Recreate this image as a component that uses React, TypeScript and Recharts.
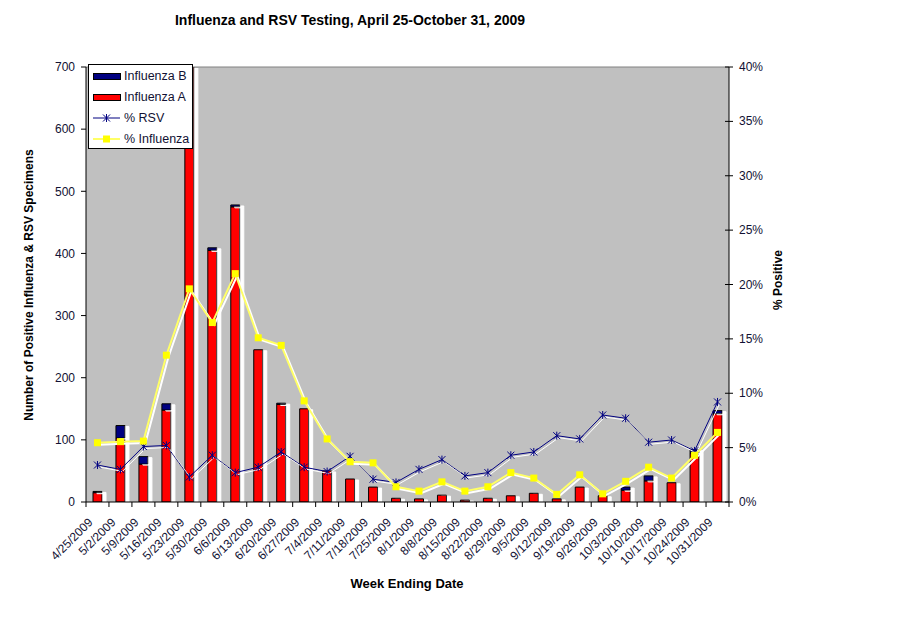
import React from 'react';
import { ComposedChart, Bar, Line, XAxis, YAxis, CartesianGrid, ReferenceLine, Legend, Label } from 'recharts';

const weeks = [
  '4/25/2009', '5/2/2009', '5/9/2009', '5/16/2009', '5/23/2009', '5/30/2009', '6/6/2009',
  '6/13/2009', '6/20/2009', '6/27/2009', '7/4/2009', '7/11/2009', '7/18/2009', '7/25/2009',
  '8/1/2009', '8/8/2009', '8/15/2009', '8/22/2009', '8/29/2009', '9/5/2009', '9/12/2009',
  '9/19/2009', '9/26/2009', '10/3/2009', '10/10/2009', '10/17/2009', '10/24/2009', '10/31/2009',
];
const influenzaA = [15, 103, 61, 148, 760, 405, 475, 245, 157, 150, 50, 37, 24, 6, 5, 11, 3, 6, 10, 14, 5, 24, 10, 19, 34, 31, 79, 142];
const influenzaB = [2, 20, 12, 10, 0, 4, 3, 0, 2, 0, 0, 0, 0, 0, 0, 0, 0, 0, 0, 0, 0, 0, 0, 5, 8, 0, 5, 5];
const pctRsv = [3.4, 3.0, 5.1, 5.2, 2.3, 4.3, 2.7, 3.2, 4.6, 3.2, 2.8, 4.2, 2.1, 1.8, 3.0, 3.9, 2.4, 2.7, 4.3, 4.6, 6.1, 5.8, 8.0, 7.7, 5.5, 5.7, 4.7, 9.2];
const pctInfluenza = [5.45, 5.55, 5.6, 13.5, 19.6, 16.5, 21.0, 15.1, 14.4, 9.3, 5.8, 3.7, 3.6, 1.4, 1.0, 1.85, 1.0, 1.4, 2.7, 2.2, 0.7, 2.5, 0.75, 1.9, 3.2, 2.2, 4.3, 6.4];
const countTicks = [0, 100, 200, 300, 400, 500, 600, 700];
const pctTicks = [0, 5, 10, 15, 20, 25, 30, 35, 40];

const data = weeks.map((week, i) => ({
  week,
  fluA: influenzaA[i],
  fluB: influenzaB[i],
  rsv: pctRsv[i],
  flu: pctInfluenza[i],
}));

const FONT = '"Liberation Sans", Arial, sans-serif';
const INK = '#111133';
const NAVY = '#000080';
const RED = '#FF0000';
const YELLOW = '#FFFF00';

const WeekTick = (props: any) => {
  const { x, y, payload, index } = props;
  const half = payload.offset ?? 11.5;
  const ax = x - 4;
  const ay = y + 21;
  return (
    <g>
      <line x1={x - half} y1={y} x2={x - half} y2={y + 5} stroke="#000" />
      {index === weeks.length - 1 && <line x1={x + half} y1={y} x2={x + half} y2={y + 5} stroke="#000" />}
      <text x={ax} y={ay} textAnchor="end" transform={`rotate(-45 ${ax} ${ay})`} fontSize={12} fontFamily={FONT} fill={INK}>
        {payload.value}
      </text>
    </g>
  );
};

// right axis uses "cross" tick marks like the original
const PctTick = (props: any) => {
  const { x, y, payload } = props;
  const axisX = x - 10;
  return (
    <g>
      <line x1={axisX - 4} y1={y} x2={axisX + 4} y2={y} stroke="#000" />
      <text x={x} y={y} dy={4} textAnchor="start" fontSize={12} fontFamily={FONT} fill={INK}>
        {`${payload.value}%`}
      </text>
    </g>
  );
};

const StarDot = (props: any) => {
  const { cx, cy } = props;
  if (cx == null || cy == null) return null;
  const r = 3.5;
  return (
    <g stroke={NAVY} strokeWidth={1}>
      <line x1={cx - r} y1={cy - r} x2={cx + r} y2={cy + r} />
      <line x1={cx - r} y1={cy + r} x2={cx + r} y2={cy - r} />
      <line x1={cx} y1={cy - r - 0.5} x2={cx} y2={cy + r + 0.5} />
    </g>
  );
};

const SquareDot = (props: any) => {
  const { cx, cy } = props;
  if (cx == null || cy == null) return null;
  return <rect x={cx - 3.5} y={cy - 3.5} width={7} height={7} fill={YELLOW} />;
};

const legendItems = [
  { name: 'Influenza B', kind: 'bar', color: NAVY },
  { name: 'Influenza A', kind: 'bar', color: RED },
  { name: '% RSV', kind: 'star', color: NAVY },
  { name: '% Influenza', kind: 'square', color: '#FFFF66' },
];

const ChartLegend = () => (
  <div style={{ background: '#fff', border: '1px solid #000', width: 103, height: 82, boxSizing: 'content-box', paddingTop: 1 }}>
    {legendItems.map((item) => (
      <div key={item.name} style={{ display: 'flex', alignItems: 'center', height: 20.8, fontFamily: FONT, fontSize: 12.5, color: INK }}>
        <svg width={32} height={12} style={{ flex: 'none' }}>
          {item.kind === 'bar' && <rect x={4.5} y={3.5} width={27} height={6} fill={item.color} stroke="#000" />}
          {item.kind !== 'bar' && <line x1={4} y1={6} x2={31} y2={6} stroke={item.color} strokeWidth={item.kind === 'square' ? 2 : 1} />}
          {item.kind === 'star' && <StarDot cx={17.5} cy={6} />}
          {item.kind === 'square' && <SquareDot cx={17.5} cy={6} />}
        </svg>
        <span style={{ marginLeft: 3, whiteSpace: 'nowrap' }}>{item.name}</span>
      </div>
    ))}
  </div>
);

export default function App() {
  return (
    <div style={{ position: 'relative', width: 911, height: 623, background: '#fff', fontFamily: FONT }}>
      <style>{`body{margin:0} g.recharts-bar.bar-shadow{filter:url(#barShadow)} g.recharts-line.line-shadow{filter:url(#lineShadow)}`}</style>
      <svg width={0} height={0} style={{ position: 'absolute' }}>
        <defs>
          <filter id="barShadow" filterUnits="userSpaceOnUse" x="0" y="0" width="911" height="623">
            <feOffset in="SourceAlpha" dx="4" dy="1" result="off" />
            <feFlood floodColor="#ffffff" result="white" />
            <feComposite in="white" in2="off" operator="in" result="shadow" />
            <feMerge>
              <feMergeNode in="shadow" />
              <feMergeNode in="SourceGraphic" />
            </feMerge>
          </filter>
          <filter id="lineShadow" filterUnits="userSpaceOnUse" x="0" y="0" width="911" height="623">
            <feOffset in="SourceAlpha" dx="2" dy="2" result="off" />
            <feFlood floodColor="#ffffff" result="white" />
            <feComposite in="white" in2="off" operator="in" result="shadow" />
            <feMerge>
              <feMergeNode in="shadow" />
              <feMergeNode in="SourceGraphic" />
            </feMerge>
          </filter>
        </defs>
      </svg>
      <ComposedChart width={911} height={623} data={data} margin={{ top: 67, right: 142, bottom: 61, left: 46 }} barSize={9}>
        <CartesianGrid fill="#C0C0C0" horizontal={false} vertical={false} />
        <ReferenceLine y={700} stroke="#808080" />
        <XAxis
          dataKey="week"
          interval={0}
          height={60}
          tickLine={false}
          tickSize={0}
          tickMargin={0}
          axisLine={{ stroke: '#000' }}
          tick={<WeekTick />}
        >
          <Label
            content={() => (
              <text x={407} y={588} textAnchor="middle" fontSize={13} fontWeight="bold" fontFamily={FONT} fill="#000">
                Week Ending Date
              </text>
            )}
          />
        </XAxis>
        <YAxis
          domain={[0, 700]}
          ticks={countTicks}
          allowDataOverflow
          width={40}
          tickSize={5}
          tickMargin={6}
          axisLine={{ stroke: '#000' }}
          tickLine={{ stroke: '#000' }}
          tick={{ fill: INK, fontSize: 12, fontFamily: FONT }}
        >
          <Label
            content={() => (
              <text x={33} y={285} transform="rotate(-90 33 285)" textAnchor="middle" fontSize={12} fontWeight="bold" fontFamily={FONT} fill="#000">
                Number of Positive Influenza &amp; RSV Specimens
              </text>
            )}
          />
        </YAxis>
        <YAxis
          yAxisId="right"
          orientation="right"
          domain={[0, 40]}
          ticks={pctTicks}
          width={40}
          tickSize={4}
          tickMargin={6}
          axisLine={{ stroke: '#000' }}
          tickLine={false}
          tick={<PctTick />}
        >
          <Label
            content={() => (
              <text x={782} y={280} transform="rotate(-90 782 280)" textAnchor="middle" fontSize={12} fontWeight="bold" fontFamily={FONT} fill="#000">
                % Positive
              </text>
            )}
          />
        </YAxis>
        <Bar dataKey="fluA" name="Influenza A" stackId="flu" fill={RED} stroke="#000" strokeWidth={1} className="bar-shadow" isAnimationActive={false} />
        <Bar dataKey="fluB" name="Influenza B" stackId="flu" fill={NAVY} stroke="#000" strokeWidth={1} className="bar-shadow" isAnimationActive={false} />
        <Line yAxisId="right" dataKey="rsv" name="% RSV" stroke={NAVY} strokeWidth={1} dot={<StarDot />} activeDot={false} className="line-shadow" isAnimationActive={false} />
        <Line yAxisId="right" dataKey="flu" name="% Influenza" stroke="#FFFF66" strokeWidth={2} dot={<SquareDot />} activeDot={false} className="line-shadow" isAnimationActive={false} />
        <Legend
          layout="vertical"
          align="center"
          verticalAlign="middle"
          content={() => <ChartLegend />}
          wrapperStyle={{ left: 88, top: 64, width: 105, height: 84 }}
        />
      </ComposedChart>
      <div style={{ position: 'absolute', left: 0, top: 11, width: 700, textAlign: 'center', fontSize: 14, fontWeight: 'bold', color: '#000', lineHeight: '18px' }}>
        Influenza and RSV Testing, April 25-October 31, 2009
      </div>
    </div>
  );
}
